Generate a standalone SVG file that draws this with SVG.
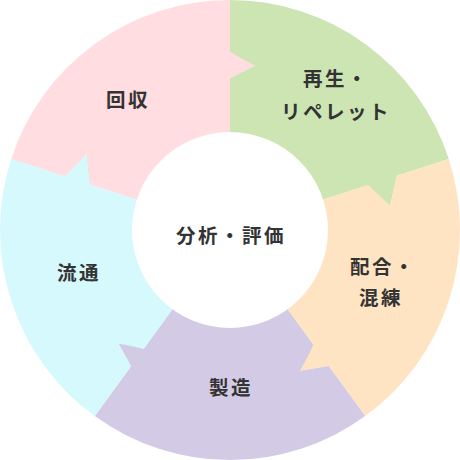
<svg xmlns="http://www.w3.org/2000/svg" xmlns:xlink="http://www.w3.org/1999/xlink" width="460" height="460" viewBox="0 0 460 460">
<style>
.lbl{font-family:"Noto Sans CJK JP","Noto Sans",sans-serif;font-weight:bold;font-size:19.5px;fill:#333;text-anchor:middle;letter-spacing:2.5px}
.shd{fill:#000;opacity:0.4;filter:url(#blur)}
</style>
<defs>
<filter id="blur" x="-1" y="-1" width="3" height="3"><feGaussianBlur stdDeviation="4"/></filter>
<path id="pSegPink" d="M230,230 L89.9,184.5 L86.7,154 L65.1,176.4 L11.26,158.93 A230,230 0 0 1 230,0 L230,51.7 L255,65.7 L230,78.3 Z"/>
<path id="pSegGreen" d="M230,230 L230,78.3 L255,65.7 L230,51.7 L230,0 A230,230 0 0 1 448.74,158.93 L396.9,175.8 L390,206 L368.3,185.1 Z"/>
<path id="pSegPeach" d="M230,230 L368.3,185.1 L390,206 L396.9,175.8 L448.74,158.93 A230,230 0 0 1 365.19,416.07 L328.7,365.9 L300,371 L313.5,344.9 Z"/>
<path id="pSegPurple" d="M230,230 L313.5,344.9 L300,371 L328.7,365.9 L365.19,416.07 A230,230 0 0 1 94.81,416.07 L131,366.2 L118.3,343.3 L143.8,348.7 Z"/>
<path id="pSegCyan" d="M230,230 L143.8,348.7 L118.3,343.3 L131,366.2 L94.81,416.07 A230,230 0 0 1 11.26,158.93 L65.1,176.4 L86.7,154 L89.9,184.5 Z"/>
<clipPath id="cGreen"><use xlink:href="#pSegGreen"/></clipPath>
<clipPath id="cPeach"><use xlink:href="#pSegPeach"/></clipPath>
<clipPath id="cPurple"><use xlink:href="#pSegPurple"/></clipPath>
<clipPath id="cCyan"><use xlink:href="#pSegCyan"/></clipPath>
<clipPath id="cPink"><use xlink:href="#pSegPink"/></clipPath>
</defs>

<g id="connectors">
<g clip-path="url(#cGreen)"><polygon class="shd" points="230,47 255,61 230,73"/></g>
<g clip-path="url(#cPeach)"><polygon class="shd" points="363,187 385,208 392,178"/></g>
<g clip-path="url(#cPurple)"><polygon class="shd" points="308,342 295,368 324,363"/></g>
<g clip-path="url(#cCyan)"><polygon class="shd" points="143,343 118,338 131,361"/></g>
<g clip-path="url(#cPink)"><polygon class="shd" points="95,184 92,154 70,176"/></g>
</g>

<g id="node-kaishu">
<use xlink:href="#pSegPink" fill="#FFDDE1"/>
<text class="lbl" x="128" y="107">回収</text>
</g>
<g id="node-saisei">
<use xlink:href="#pSegGreen" fill="#CCE5B3"/>
<text class="lbl" x="336" y="86">再生・</text>
<text class="lbl" x="336" y="119">リペレット</text>
</g>
<g id="node-haigo">
<use xlink:href="#pSegPeach" fill="#FFE4C4"/>
<text class="lbl" x="383" y="274">配合・</text>
<text class="lbl" x="381" y="305">混練</text>
</g>
<g id="node-seizo">
<use xlink:href="#pSegPurple" fill="#D3CAE6"/>
<text class="lbl" x="231" y="395">製造</text>
</g>
<g id="node-ryutsu">
<use xlink:href="#pSegCyan" fill="#D5F9FD"/>
<text class="lbl" x="79" y="280">流通</text>
</g>
<g id="node-bunseki">
<circle cx="230" cy="230" r="98" fill="#fff"/>
<text class="lbl" x="231" y="243">分析・評価</text>
</g>
</svg>
